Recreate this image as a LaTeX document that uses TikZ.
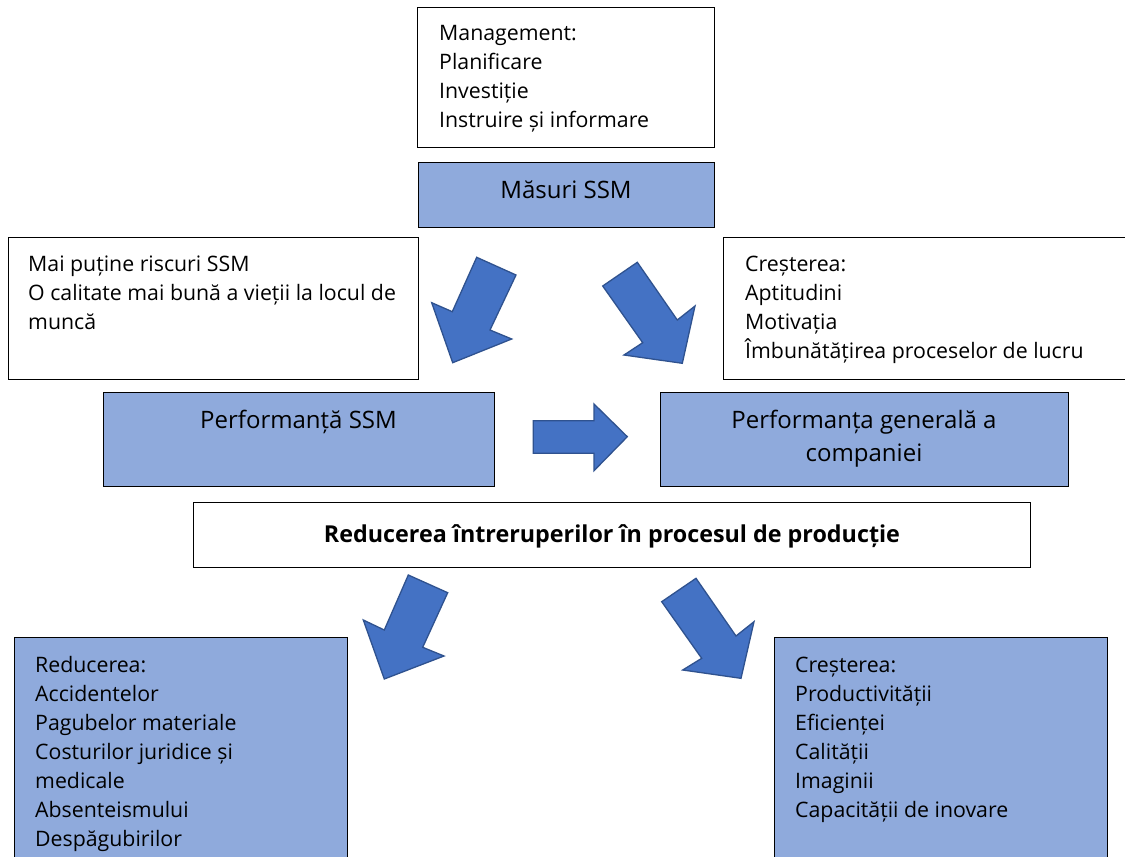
\documentclass[tikz,border=0pt]{standalone}
\usepackage{fontspec}
\setmainfont{Open Sans}
\definecolor{boxblue}{HTML}{8FAADC}
\definecolor{arrowblue}{HTML}{4472C4}
\definecolor{arrowedge}{HTML}{2F528F}
\tikzset{
  wbox/.style={draw=black, line width=1.3pt, fill=white, anchor=north west, inner sep=0pt},
  bbox/.style={draw=black, line width=1.3pt, fill=boxblue, anchor=north west, inner sep=0pt},
  txt/.style={anchor=north west, inner sep=0pt, align=left, font=\fontsize{21.3}{29}\selectfont},
  ctxt/.style={anchor=base, inner sep=0pt, font=\fontsize{24}{29}\selectfont},
  blockarrow/.style={fill=arrowblue, draw=arrowedge, line width=1.3pt, line join=miter}
}
\newcommand{\fl}{\rule{0pt}{18pt}}
\begin{document}
\begin{tikzpicture}[x=1pt,y=-1pt]
\path[use as bounding box, clip] (0,0) rectangle (1125,857);
\fill[white] (0,0) rectangle (1125,857);

% boxes
\node[wbox, minimum width=297pt, minimum height=140pt] (mgmt) at (417,6.5) {};
\node[bbox, minimum width=296pt, minimum height=65pt] (masuri) at (418,162) {};
\node[wbox, minimum width=410pt, minimum height=142pt] (riscuri) at (8,237) {};
\node[wbox, minimum width=420pt, minimum height=142pt] (crestereaA) at (723,237) {};
\node[bbox, minimum width=391pt, minimum height=94pt] (perfssm) at (103,392) {};
\node[bbox, minimum width=408pt, minimum height=94pt] (perfgen) at (660,392) {};
\node[wbox, minimum width=837pt, minimum height=65pt] (reducerea) at (193,501.5) {};
\node[bbox, minimum width=333pt, minimum height=240pt] (reducB) at (14,637) {};
\node[bbox, minimum width=333pt, minimum height=240pt] (crestB) at (774,637) {};

% texts
\node[txt] (tmgmt) at (439,22) {\fl Management:\\Planificare\\Investiție\\Instruire și informare};
\node[ctxt] (tmasuri) at (566,198) {Măsuri SSM};
\node[txt] (triscuri) at (28,253) {\fl Mai puține riscuri SSM\\O calitate mai bună a vieții la locul de\\muncă};
\node[txt] (tcrestA) at (745,253) {\fl Creșterea:\\Aptitudini\\Motivația\\Îmbunătățirea proceselor de lucru};
\node[ctxt] (tperfssm) at (298.5,428) {Performanță SSM};
\node[anchor=north, inner sep=0pt, align=center, font=\fontsize{24}{33}\selectfont] (tperfgen) at (864,408) {\rule{0pt}{20pt}Performanța generală a\\companiei};
\node[ctxt, font=\fontsize{23.3}{29}\selectfont\bfseries] (treduc) at (612,542) {Reducerea întreruperilor în procesul de producție};
\node[txt] (treducB) at (35,654) {\fl Reducerea:\\Accidentelor\\Pagubelor materiale\\Costurilor juridice și\\medicale\\Absenteismului\\Despăgubirilor};
\node[txt] (tcrestB) at (795,654) {\fl Creșterea:\\Productivității\\Eficienței\\Calității\\Imaginii\\Capacității de inovare};

% block arrows
\draw[blockarrow] (476.7,257.3) -- (516,275) -- (490,330) -- (511.7,339) -- (452.7,362.7) -- (431.7,302.7) -- (452.3,311.7) -- cycle;
\draw[blockarrow] (637.3,262.3) -- (602.7,286) -- (642.7,342.7) -- (624,355) -- (682.3,363.3) -- (695,306) -- (677.3,320) -- cycle;
\draw[blockarrow] (533.3,420.7) -- (594,420.7) -- (594,404) -- (627.3,436.7) -- (594,470.7) -- (594,453.3) -- (533.3,453.3) -- cycle;
\draw[blockarrow] (408.3,575) -- (447.7,592.7) -- (422.7,647.3) -- (444,656) -- (384.3,679) -- (363.3,620) -- (384.3,630) -- cycle;
\draw[blockarrow] (696,578.3) -- (661.7,601.7) -- (701.7,658.3) -- (682.7,670) -- (741,678.3) -- (754,621.7) -- (736,636) -- cycle;
\end{tikzpicture}
\end{document}
